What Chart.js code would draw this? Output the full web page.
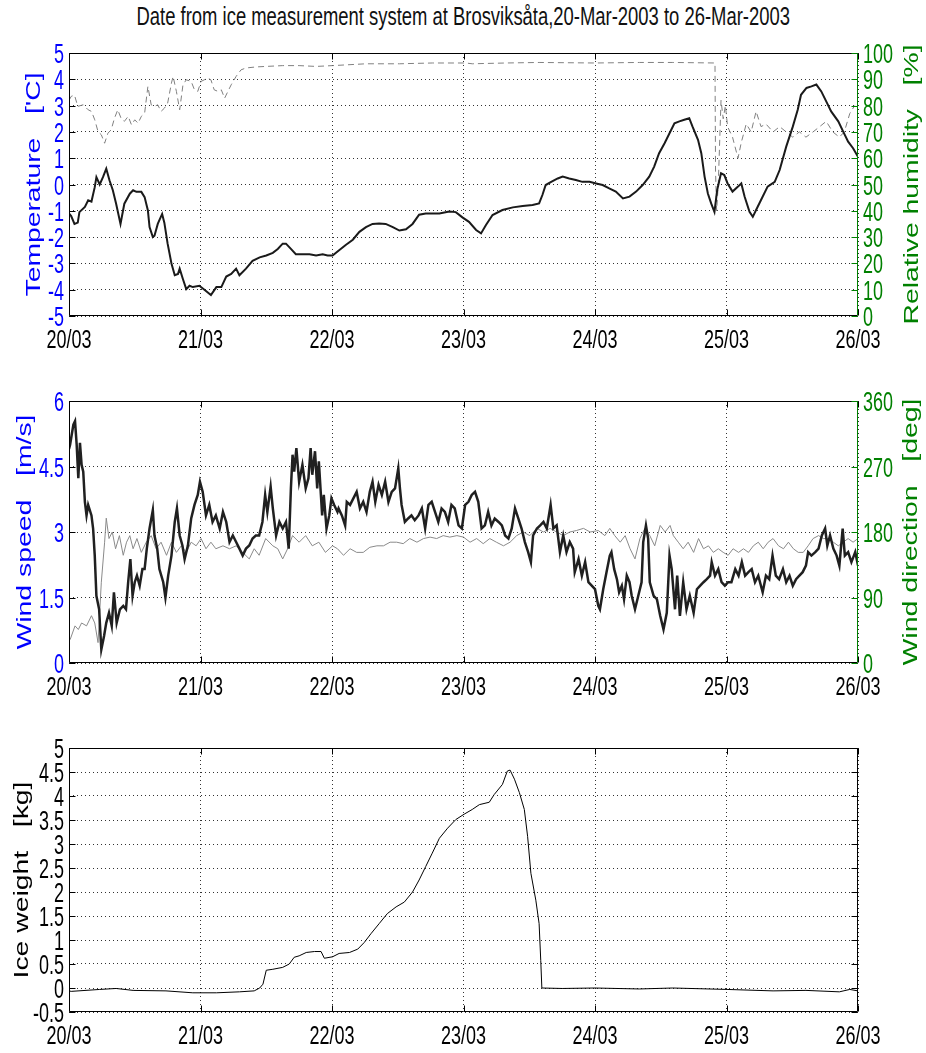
<!DOCTYPE html>
<html>
<head>
<meta charset="utf-8">
<script src="https://cdn.jsdelivr.net/npm/chart.js@4.4.0/dist/chart.umd.min.js"></script>
<style>
  body { margin: 0; background: #fff; width: 926px; height: 1053px; position: relative; overflow: hidden; }
  #tituloGeral {
    position: absolute; left: 0; top: 1px; width: 926px; text-align: center;
    font: 25px/30px 'Liberation Sans', Arimo, Arial, sans-serif; color: #111; white-space: nowrap;
  }
  #tituloGeral span { display: inline-block; transform-origin: 50% 50%; }
  .painel { position: absolute; left: 0; }
</style>
</head>
<body>
<div id="tituloGeral"><span id="tituloTexto">Date from ice measurement system at Brosviksåta,20-Mar-2003 to 26-Mar-2003</span></div>
<canvas id="graficoTemperatura" class="painel" width="926" height="318" style="top:38px;width:926px;height:318px"></canvas>
<canvas id="graficoVento" class="painel" width="926" height="317" style="top:386px;width:926px;height:317px"></canvas>
<canvas id="graficoGelo" class="painel" width="926" height="319" style="top:733px;width:926px;height:319px"></canvas>
<script>
// rótulos do eixo x (um por dia, 0 a 144 horas)
const rotulosDias = ["20/03", "21/03", "22/03", "23/03", "24/03", "25/03", "26/03"];

// [hora desde 20/03 00:00, valor]
const temperatura = [
  [0, -1.1], [0.4, -1.2], [1.0, -1.5], [1.6, -1.45], [1.9, -1.05], [2.9, -0.85], [3.5, -0.6], [4.1, -0.65],
  [4.7, -0.1], [5.0, 0.28], [5.6, 0.0], [6.2, 0.28], [6.8, 0.6], [7.4, 0.15], [8.0, -0.22], [8.6, -0.73],
  [9.4, -1.5], [10.1, -0.73], [11.1, -0.35], [11.7, -0.22], [12.3, -0.28], [13.2, -0.28], [13.8, -0.48],
  [14.4, -0.99], [14.7, -1.62], [15.3, -2.0], [15.6, -1.95], [16.2, -1.5], [17.0, -1.12], [17.4, -1.45],
  [18.0, -2.25], [18.7, -3.0], [19.3, -3.45], [19.9, -3.4], [20.2, -3.2], [20.8, -3.6], [21.4, -3.98],
  [22.0, -3.85], [22.6, -3.9], [23.8, -3.85], [25.0, -4.05], [25.9, -4.2], [26.9, -3.9], [27.8, -3.9],
  [28.7, -3.5], [29.6, -3.4], [30.5, -3.2], [31.1, -3.45], [32.3, -3.2], [33.5, -2.9], [34.8, -2.77],
  [36.0, -2.7], [37.2, -2.6], [38.1, -2.45], [39.0, -2.25], [39.6, -2.25], [40.5, -2.45], [41.4, -2.65],
  [42.6, -2.65], [43.9, -2.65], [45.1, -2.7], [46.3, -2.65], [47.2, -2.7], [48.1, -2.7], [49.3, -2.5],
  [50.5, -2.3], [51.8, -2.1], [53.0, -1.8], [54.2, -1.62], [55.4, -1.5], [56.6, -1.48], [57.8, -1.5],
  [59.1, -1.62], [60.3, -1.75], [61.5, -1.7], [62.7, -1.5], [63.9, -1.15], [65.1, -1.1], [66.3, -1.1],
  [67.6, -1.1], [69.4, -1.03], [70.6, -1.05], [71.8, -1.25], [73.0, -1.42], [74.3, -1.73], [75.2, -1.86],
  [76.1, -1.54], [77.3, -1.16], [79.1, -0.97], [81.0, -0.87], [82.8, -0.82], [84.6, -0.78], [85.8, -0.72],
  [86.4, -0.4], [87.0, -0.02], [88.0, 0.1], [89.2, 0.23], [90.1, 0.3], [91.3, 0.23], [92.5, 0.17],
  [93.7, 0.1], [95.0, 0.1], [96.2, 0.04], [97.4, -0.02], [98.6, -0.15], [99.8, -0.27], [101.1, -0.53],
  [102.3, -0.46], [103.5, -0.27], [104.7, -0.02], [105.9, 0.3], [106.8, 0.68], [107.7, 1.19], [108.7, 1.57],
  [109.6, 1.95], [110.5, 2.33], [111.4, 2.4], [112.3, 2.46], [113.2, 2.52], [113.8, 2.2], [114.8, 1.7],
  [115.4, 1.19], [116.0, 0.3], [116.6, -0.34], [117.2, -0.72], [117.8, -1.04], [118.3, -0.21], [119.0, 0.43],
  [119.6, 0.36], [120.2, 0.04], [121.1, -0.27], [122.1, -0.08], [122.7, 0.04], [123.3, -0.46], [124.2, -1.04],
  [124.8, -1.23], [125.4, -0.97], [126.3, -0.59], [127.5, -0.08], [128.8, 0.1], [129.7, 0.55], [130.9, 1.44],
  [132.1, 2.2], [133.0, 2.84], [133.6, 3.41], [134.6, 3.67], [135.5, 3.73], [136.4, 3.8], [137.3, 3.54],
  [138.2, 3.16], [139.1, 2.78], [140.4, 2.4], [141.3, 2.01], [142.2, 1.63], [143.1, 1.38], [144.0, 1.06],
];

const umidade = [
  [0, 82], [0.4, 83.5], [1.0, 84], [1.6, 79.7], [2.6, 80.3], [3.5, 78.4], [4.1, 77.8], [4.7, 74.6],
  [5.3, 70.1], [5.9, 68.9], [6.5, 65.7], [7.1, 69.5], [7.7, 70.8], [8.3, 75.2], [8.9, 78.4], [9.5, 75.2],
  [10.1, 74], [10.8, 75.9], [11.4, 72.7], [12.0, 74.6], [12.6, 73.3], [13.2, 75.9], [13.8, 77.1],
  [14.4, 87.3], [15.0, 80.3], [15.6, 79.7], [16.2, 80.3], [16.8, 77.8], [17.4, 79], [18.0, 80.9],
  [18.7, 88.6], [19.0, 91.1], [19.6, 85.4], [20.2, 78.4], [20.8, 87.9], [21.4, 89.8], [22.3, 89.2],
  [22.9, 86], [23.5, 85.4], [24.1, 89.2], [24.7, 89.8], [25.3, 90.5], [25.9, 89.8], [26.5, 86],
  [27.2, 85.4], [27.8, 86], [28.4, 82.8], [29.0, 85.4], [29.6, 87.9], [30.5, 91.1], [31.4, 93.6],
  [32.3, 94.3], [34.1, 94.7], [36.0, 94.9], [39.0, 95.2], [42.0, 95.2], [45.1, 94.9], [48.1, 95.2],
  [54.2, 95.9], [60.3, 95.9], [66.3, 96.2], [72.4, 96.2], [73.6, 95.9], [79.7, 96.2], [85.8, 96.4],
  [96.0, 96.2], [104.1, 96.4], [110.2, 96.4], [117.9, 96.2], [118.0, 55], [118.2, 40], [118.5, 50],
  [119.0, 82], [119.4, 75], [119.8, 80], [120.2, 72], [121.1, 68], [122.1, 60], [122.7, 66], [123.6, 73],
  [124.5, 70], [125.4, 77.8], [126.3, 72], [127.2, 73], [128.5, 70], [129.7, 72], [130.9, 70], [132.1, 68],
  [133.3, 70], [134.5, 68], [135.8, 70], [137.0, 72], [138.2, 74], [139.4, 70], [140.6, 68], [141.5, 70],
  [142.5, 77], [143.4, 80],
];

const velocidadeVento = [
  [0.0, 4.9], [0.2, 5.0], [0.8, 5.46], [1.1, 5.54], [1.4, 5.0], [1.7, 4.23], [2.0, 5.04], [2.3, 4.54],
  [2.6, 4.38], [2.9, 3.69], [3.2, 3.38], [3.5, 3.62], [4.1, 3.38], [4.4, 3.08], [4.7, 2.46], [5.0, 1.54],
  [5.5, 1.23], [5.9, 0.31], [6.4, 0.62], [6.8, 0.92], [7.3, 1.15], [7.8, 0.85], [8.2, 1.62], [8.7, 0.92],
  [9.3, 1.23], [9.9, 1.31], [10.4, 1.23], [10.8, 1.85], [11.2, 2.38], [11.6, 1.54], [12.0, 1.85], [12.4, 2.0],
  [12.9, 1.77], [13.4, 2.15], [13.8, 2.15], [14.2, 2.62], [14.7, 3.08], [15.3, 3.5], [15.6, 2.92], [16.1, 2.62],
  [16.5, 2.15], [17.2, 1.85], [17.6, 1.5], [18.1, 2.0], [18.7, 2.46], [19.3, 3.23], [19.7, 3.54], [20.2, 2.92],
  [20.7, 2.69], [21.1, 2.38], [21.7, 2.69], [22.3, 3.31], [22.9, 3.62], [23.5, 3.85], [23.9, 4.15], [24.4, 3.92],
  [25.0, 3.38], [25.6, 3.62], [26.2, 3.23], [26.8, 3.38], [27.5, 3.08], [28.1, 3.46], [28.7, 3.23], [29.3, 2.77],
  [29.9, 2.92], [30.5, 2.77], [31.1, 2.62], [31.7, 2.46], [32.3, 2.62], [32.9, 2.69], [33.5, 2.85], [34.1, 2.92],
  [34.7, 2.92], [35.3, 3.23], [35.8, 3.85], [36.2, 3.46], [36.8, 4.04], [37.2, 3.54], [37.8, 2.92], [38.4, 3.23],
  [39.0, 3.08], [39.6, 3.23], [40.1, 2.62], [40.5, 4.0], [40.8, 4.77], [41.1, 4.38], [41.5, 4.92], [42.0, 4.15],
  [42.6, 4.54], [43.2, 4.0], [43.7, 4.23], [44.1, 4.92], [44.4, 4.31], [44.9, 4.85], [45.3, 4.0], [45.6, 4.62],
  [46.2, 3.38], [46.5, 3.85], [47.0, 3.08], [47.5, 3.38], [47.9, 3.77], [48.4, 3.62], [49.0, 3.46],
  [49.2, 3.54], [49.8, 3.38], [50.4, 3.15], [50.7, 3.69], [51.3, 3.62], [51.9, 3.77], [52.5, 3.92], [53.1, 3.54],
  [53.7, 3.69], [54.3, 3.46], [54.9, 3.92], [55.4, 4.15], [55.9, 3.69], [56.5, 4.08], [57.1, 3.85], [57.7, 4.15],
  [58.3, 3.69], [58.9, 3.92], [59.5, 4.0], [60.1, 4.46], [60.4, 4.0], [60.7, 3.62], [61.3, 3.23], [61.9, 3.31],
  [62.5, 3.38], [63.1, 3.27], [63.8, 3.38], [64.4, 3.54], [65.0, 3.08], [65.6, 3.62], [66.2, 3.69], [66.8, 3.46],
  [67.4, 3.23], [68.0, 3.54], [68.6, 3.46], [69.2, 3.23], [69.8, 3.62], [70.4, 3.54], [71.1, 3.15], [71.7, 3.08],
  [72.3, 3.62], [72.9, 3.69], [73.5, 3.85], [74.1, 3.92], [74.7, 3.69], [75.3, 3.08], [75.9, 3.15], [76.5, 3.46],
  [77.1, 3.15], [77.7, 3.31], [78.4, 3.23], [79.0, 3.15], [79.6, 2.92], [80.2, 2.85], [80.8, 3.08], [81.4, 3.54],
  [82.0, 3.31], [82.6, 3.08], [83.2, 2.77], [83.8, 2.54], [84.3, 2.31], [84.7, 2.92], [85.4, 3.08], [86.0, 3.15],
  [86.6, 3.23], [87.2, 3.08], [87.9, 3.62], [88.4, 3.08], [89.0, 3.15], [89.6, 2.54], [90.2, 2.92], [90.8, 2.54],
  [91.4, 2.77], [92.0, 2.62], [92.3, 2.08], [93.0, 2.38], [93.6, 2.0], [94.2, 2.31], [94.8, 1.85], [95.4, 1.77],
  [96.0, 1.69], [96.6, 1.31], [96.9, 1.23], [97.5, 1.69], [98.1, 2.08], [98.7, 2.46], [99.0, 2.54], [99.5, 2.15],
  [100.0, 1.92], [100.4, 1.62], [100.9, 1.77], [101.3, 1.46], [101.8, 2.0], [102.3, 1.85], [102.7, 1.54],
  [103.3, 1.23], [103.9, 1.54], [104.5, 1.85], [104.8, 2.77], [105.3, 3.15], [105.7, 2.85], [106.0, 1.85],
  [106.7, 1.54], [107.3, 1.46], [107.9, 1.08], [108.5, 0.77], [109.1, 1.15], [109.6, 2.46], [110.0, 2.15],
  [110.6, 1.23], [111.0, 2.0], [111.5, 1.08], [112.1, 1.85], [112.7, 1.23], [113.3, 1.54], [114.0, 1.15],
  [114.6, 1.69], [115.2, 1.77], [115.8, 1.85], [116.4, 1.92], [117.0, 2.0], [117.3, 2.31], [117.9, 2.0],
  [118.5, 2.15], [119.1, 1.85], [119.7, 1.77], [120.3, 1.85], [120.9, 1.85], [121.6, 2.15], [122.2, 2.0],
  [122.8, 2.31], [123.4, 2.0], [124.0, 2.08], [124.6, 2.15], [125.2, 1.85], [125.8, 2.0], [126.6, 1.62],
  [127.2, 2.0], [127.8, 1.92], [128.4, 2.46], [129.0, 2.0], [129.6, 1.92], [130.3, 2.15], [130.9, 1.85],
  [131.5, 2.0], [132.1, 1.77], [132.7, 1.92], [133.3, 2.0], [133.9, 2.08], [134.5, 2.23], [134.9, 2.54],
  [135.5, 2.46], [136.2, 2.54], [136.8, 2.62], [137.4, 2.92], [138.0, 3.08], [138.4, 2.69], [138.9, 2.92],
  [139.5, 2.62], [140.1, 2.46], [140.6, 2.23], [141.2, 3.08], [141.6, 2.46], [142.2, 2.54], [142.8, 2.31],
  [143.5, 2.54], [144.0, 2.23],
];

const direcaoVento = [
  [0.2, 32], [1.1, 51], [1.7, 46], [2.3, 55], [3.2, 51], [4.1, 65], [4.7, 55], [5.3, 28], [5.9, 111], [6.5, 166],
  [6.8, 199], [7.3, 171], [7.9, 180], [8.5, 157], [9.2, 175], [9.9, 148], [10.5, 166], [11.1, 175], [11.7, 157],
  [12.4, 171], [13.2, 152], [14.1, 166], [15.0, 175], [15.9, 157], [16.8, 166], [17.8, 148], [18.7, 166],
  [19.6, 152], [20.5, 161], [21.4, 152], [22.3, 166], [23.2, 161], [24.1, 171], [25.0, 157], [25.9, 166],
  [26.8, 157], [28.1, 161], [29.3, 157], [30.5, 161], [31.7, 152], [32.9, 143], [33.8, 157], [34.7, 148],
  [35.9, 171], [37.2, 161], [38.1, 157], [39.0, 143], [39.9, 157], [40.8, 175], [42.0, 166], [43.2, 175],
  [44.4, 161], [45.6, 166], [46.8, 152], [48.1, 161], [49.0, 157],
  [50.1, 148], [51.3, 157], [52.5, 152], [53.7, 152], [54.9, 159], [56.2, 161], [57.4, 161], [58.6, 166],
  [59.8, 166], [61.0, 164], [62.2, 171], [63.5, 166], [64.7, 171], [65.9, 173], [67.1, 171], [68.3, 175],
  [69.5, 173], [70.8, 175], [72.0, 173], [73.2, 166], [74.4, 171], [75.6, 164], [76.8, 171], [78.0, 166],
  [79.3, 161], [80.5, 166], [81.7, 175], [82.9, 180], [84.1, 175], [85.4, 185], [86.6, 180], [87.8, 185],
  [89.0, 180], [90.2, 175], [91.4, 180], [92.6, 182], [93.9, 185], [95.1, 180], [96.6, 182],
  [97.8, 175], [98.7, 185], [99.6, 175], [100.6, 166], [101.5, 175], [102.4, 157], [103.3, 143], [104.2, 171],
  [105.1, 185], [106.0, 175], [106.9, 161], [107.9, 189], [108.8, 180], [109.7, 189], [110.3, 175], [111.2, 166],
  [112.1, 157], [113.0, 166], [114.0, 152], [114.9, 171], [115.8, 157], [116.7, 161], [117.6, 152], [118.5, 157],
  [119.4, 152], [120.3, 148], [121.2, 157], [122.2, 152], [123.1, 157], [124.0, 152], [124.9, 161], [125.8, 166],
  [126.7, 157], [127.6, 166], [128.5, 171], [129.5, 161], [130.4, 157], [131.3, 166], [132.2, 157], [133.1, 152],
  [134.0, 152], [134.9, 161], [135.8, 171], [136.8, 175], [137.7, 171], [138.6, 171], [139.5, 166], [140.4, 161],
  [141.3, 166], [142.2, 171], [143.1, 166], [144.0, 171],
];

const pesoGelo = [
  [0, -0.06], [0.4, -0.07], [5.6, -0.03], [8.6, -0.01], [11.7, -0.05], [17.7, -0.06], [22.6, -0.1], [26.9, -0.1],
  [31.1, -0.08], [33.8, -0.06], [34.8, 0.0], [35.4, 0.08], [36.0, 0.37], [37.2, 0.39], [39.0, 0.43], [40.2, 0.5],
  [41.1, 0.64], [42.0, 0.67], [43.3, 0.74], [44.8, 0.76], [46.0, 0.76], [46.6, 0.62], [48.1, 0.65], [49.3, 0.72],
  [51.2, 0.74], [52.7, 0.81], [53.9, 0.95], [55.1, 1.13], [56.6, 1.34], [58.1, 1.55], [59.7, 1.69], [61.2, 1.79],
  [62.7, 2.0], [63.9, 2.25], [65.1, 2.53], [66.3, 2.81], [67.6, 3.12], [69.1, 3.33], [70.6, 3.51], [72.1, 3.62],
  [73.6, 3.72], [74.9, 3.82], [76.7, 3.87], [77.6, 4.03], [79.1, 4.24], [80.0, 4.52], [80.5, 4.54], [81.3, 4.35],
  [82.2, 4.07], [83.1, 3.72], [83.7, 3.16], [84.3, 2.39], [85.2, 1.83], [85.8, 1.34], [86.1, 0.57], [86.3, 0.0],
  [90.0, -0.01], [96.0, 0.0], [104.1, -0.02], [110.2, 0.0], [120.1, -0.03], [128.5, -0.06], [134.5, -0.05],
  [140.6, -0.08], [142.5, -0.03], [144.0, -0.06],
];

document.addEventListener("DOMContentLoaded", () => {
  const AZUL = "#0000ff";
  const VERDE = "#008000";
  const FONTE = "'Liberation Sans', Arimo, Arial, sans-serif";
  const TAM_X = 25; // rótulos dos dias
  const TAM_Y = 27; // rótulos dos eixos verticais

  // título geral comprimido na horizontal, como na figura
  const tituloTextoEl = document.getElementById("tituloTexto");
  if (tituloTextoEl) {
    const largura = tituloTextoEl.offsetWidth;
    tituloTextoEl.style.transform = `scaleX(${653 / largura})`;
  }

  // moldura preta com marcas de escala para dentro (estilo MATLAB)
  const molduraPlugin = {
    id: "moldura",
    afterDatasetsDraw(chart, args, opts) {
      const { ctx, chartArea: a, scales } = chart;
      const marca = 6;
      const esq = Math.round(a.left) + 0.5;
      const dir = Math.round(a.right) - 0.5;
      const topo = Math.round(a.top) + 0.5;
      const base = Math.round(a.bottom) - 0.5;
      ctx.save();
      ctx.lineWidth = 1;
      ctx.strokeStyle = "#000";
      ctx.beginPath();
      scales.x.ticks.forEach((t) => {
        const px = Math.round(scales.x.getPixelForValue(t.value)) + 0.5;
        ctx.moveTo(px, base);
        ctx.lineTo(px, base - marca);
        ctx.moveTo(px, topo);
        ctx.lineTo(px, topo + marca);
      });
      scales.y.ticks.forEach((t) => {
        const py = Math.round(scales.y.getPixelForValue(t.value)) + 0.5;
        ctx.moveTo(esq, py);
        ctx.lineTo(esq + marca, py);
      });
      ctx.moveTo(esq, base);
      ctx.lineTo(esq, topo);
      ctx.lineTo(dir, topo);
      ctx.moveTo(esq, base);
      ctx.lineTo(dir, base);
      ctx.stroke();

      const escalaDir = scales.y2 || scales.y;
      ctx.strokeStyle = opts.corDireita || "#000";
      ctx.beginPath();
      escalaDir.ticks.forEach((t) => {
        const py = Math.round(escalaDir.getPixelForValue(t.value)) + 0.5;
        ctx.moveTo(dir, py);
        ctx.lineTo(dir - marca, py);
      });
      ctx.moveTo(dir, topo);
      ctx.lineTo(dir, base);
      ctx.stroke();
      ctx.restore();
    },
  };

  // rótulos das escalas e títulos verticais, com o texto comprimido como no original
  const rotulosPlugin = {
    id: "rotulos",
    afterDraw(chart, args, opts) {
      const { ctx, chartArea: a, scales } = chart;
      ctx.save();

      const escrever = (texto, x, y, alinhar, cor, tam) => {
        ctx.font = `${tam}px ${FONTE}`;
        // largura alvo de um dígito: 0.556 em de Arial a 25px, comprimido a 72%
        const k = (0.72 * 0.556 * 25) / ctx.measureText("0").width;
        ctx.save();
        ctx.translate(x, y);
        ctx.scale(k, 1);
        ctx.fillStyle = cor;
        ctx.textAlign = alinhar;
        ctx.textBaseline = "alphabetic";
        ctx.fillText(texto, 0, 0);
        ctx.restore();
      };

      scales.x.ticks.forEach((t) => {
        escrever(t.label, scales.x.getPixelForValue(t.value), a.bottom + 32, "center", "#000", TAM_X);
      });
      scales.y.ticks.forEach((t) => {
        escrever(t.label, a.left - 5, scales.y.getPixelForValue(t.value) + 10, "right", opts.corEsquerda, TAM_Y);
      });
      if (scales.y2) {
        scales.y2.ticks.forEach((t) => {
          escrever(t.label, a.right + 5, scales.y2.getPixelForValue(t.value) + 10, "left", opts.corDireita, TAM_Y);
        });
      }

      const meio = (a.top + a.bottom) / 2;
      ctx.font = `28px ${FONTE}`;
      (opts.titulos || []).forEach((item) => {
        const largura = ctx.measureText(item.texto).width;
        ctx.save();
        ctx.translate(item.x, meio);
        ctx.rotate(-Math.PI / 2);
        ctx.scale(item.comprimento / largura, 0.71);
        ctx.fillStyle = item.cor;
        ctx.textAlign = "center";
        ctx.textBaseline = "middle";
        ctx.fillText(item.texto, 0, 0);
        ctx.restore();
      });
      ctx.restore();
    },
  };

  const formatarNumero = (v) => String(Math.round(v * 100) / 100);

  function eixoX() {
    return {
      type: "linear",
      min: 0,
      max: 144,
      afterFit: (s) => {
        s.height = 40;
      },
      border: { display: false, dash: [1, 3] },
      grid: { color: "#333", lineWidth: 1, drawTicks: false },
      ticks: {
        display: false,
        stepSize: 24,
        autoSkip: false,
        callback: (v) => rotulosDias[Math.round(v / 24)],
      },
    };
  }

  function eixoY(min, max, passo) {
    return {
      position: "left",
      min: min,
      max: max,
      afterFit: (s) => {
        s.width = 69;
      },
      border: { display: false, dash: [1, 3] },
      grid: { color: "#333", lineWidth: 1, drawTicks: false },
      ticks: { display: false, stepSize: passo, autoSkip: false, callback: formatarNumero },
    };
  }

  function eixoDireito(min, max, passo) {
    return {
      position: "right",
      min: min,
      max: max,
      afterFit: (s) => {
        s.width = 68;
      },
      border: { display: false },
      grid: { display: false },
      ticks: { display: false, stepSize: passo, autoSkip: false, callback: formatarNumero },
    };
  }

  const opcoesBase = {
    responsive: false,
    animation: false,
    events: [],
    layout: { padding: { top: 15, bottom: 0, left: 0, right: 0 } },
    elements: { point: { radius: 0 }, line: { tension: 0 } },
  };

  const ctxTemperatura = document.getElementById("graficoTemperatura").getContext("2d");
  new Chart(ctxTemperatura, {
    type: "line",
    data: {
      datasets: [
        {
          label: "Temperature",
          data: temperatura,
          borderColor: "#1a1a1a",
          borderWidth: 2,
          yAxisID: "y",
        },
        {
          label: "Relative humidity",
          data: umidade,
          borderColor: "#808080",
          borderWidth: 1,
          borderDash: [6, 4],
          yAxisID: "y2",
        },
      ],
    },
    options: {
      ...opcoesBase,
      scales: {
        x: eixoX(),
        y: eixoY(-5, 5, 1),
        y2: eixoDireito(0, 100, 10),
      },
      plugins: {
        legend: { display: false },
        tooltip: { enabled: false },
        moldura: { corDireita: VERDE },
        rotulos: {
          corEsquerda: AZUL,
          corDireita: VERDE,
          titulos: [
            { texto: "Temperature   ['C]", cor: AZUL, x: 35, comprimento: 224 },
            { texto: "Relative humidity   [%]", cor: VERDE, x: 913, comprimento: 280 },
          ],
        },
      },
    },
    plugins: [molduraPlugin, rotulosPlugin],
  });

  const ctxVento = document.getElementById("graficoVento").getContext("2d");
  new Chart(ctxVento, {
    type: "line",
    data: {
      datasets: [
        {
          label: "Wind speed",
          data: velocidadeVento,
          borderColor: "#202020",
          borderWidth: 2.5,
          yAxisID: "y",
        },
        {
          label: "Wind direction",
          data: direcaoVento,
          borderColor: "#8a8a8a",
          borderWidth: 1,
          yAxisID: "y2",
        },
      ],
    },
    options: {
      ...opcoesBase,
      scales: {
        x: eixoX(),
        y: eixoY(0, 6, 1.5),
        y2: eixoDireito(0, 360, 90),
      },
      plugins: {
        legend: { display: false },
        tooltip: { enabled: false },
        moldura: { corDireita: VERDE },
        rotulos: {
          corEsquerda: AZUL,
          corDireita: VERDE,
          titulos: [
            { texto: "Wind speed   [m/s]", cor: AZUL, x: 26, comprimento: 235 },
            { texto: "Wind direction   [deg]", cor: VERDE, x: 912, comprimento: 267 },
          ],
        },
      },
    },
    plugins: [molduraPlugin, rotulosPlugin],
  });

  const ctxGelo = document.getElementById("graficoGelo").getContext("2d");
  new Chart(ctxGelo, {
    type: "line",
    data: {
      datasets: [
        {
          label: "Ice weight",
          data: pesoGelo,
          borderColor: "#000",
          borderWidth: 1,
          yAxisID: "y",
        },
      ],
    },
    options: {
      ...opcoesBase,
      layout: { padding: { top: 15, bottom: 0, left: 0, right: 68 } },
      scales: {
        x: eixoX(),
        y: eixoY(-0.5, 5, 0.5),
      },
      plugins: {
        legend: { display: false },
        tooltip: { enabled: false },
        moldura: { corDireita: "#000" },
        rotulos: {
          corEsquerda: "#000",
          titulos: [{ texto: "Ice weight   [kg]", cor: "#000", x: 23, comprimento: 197 }],
        },
      },
    },
    plugins: [molduraPlugin, rotulosPlugin],
  });
});
</script>
</body>
</html>
